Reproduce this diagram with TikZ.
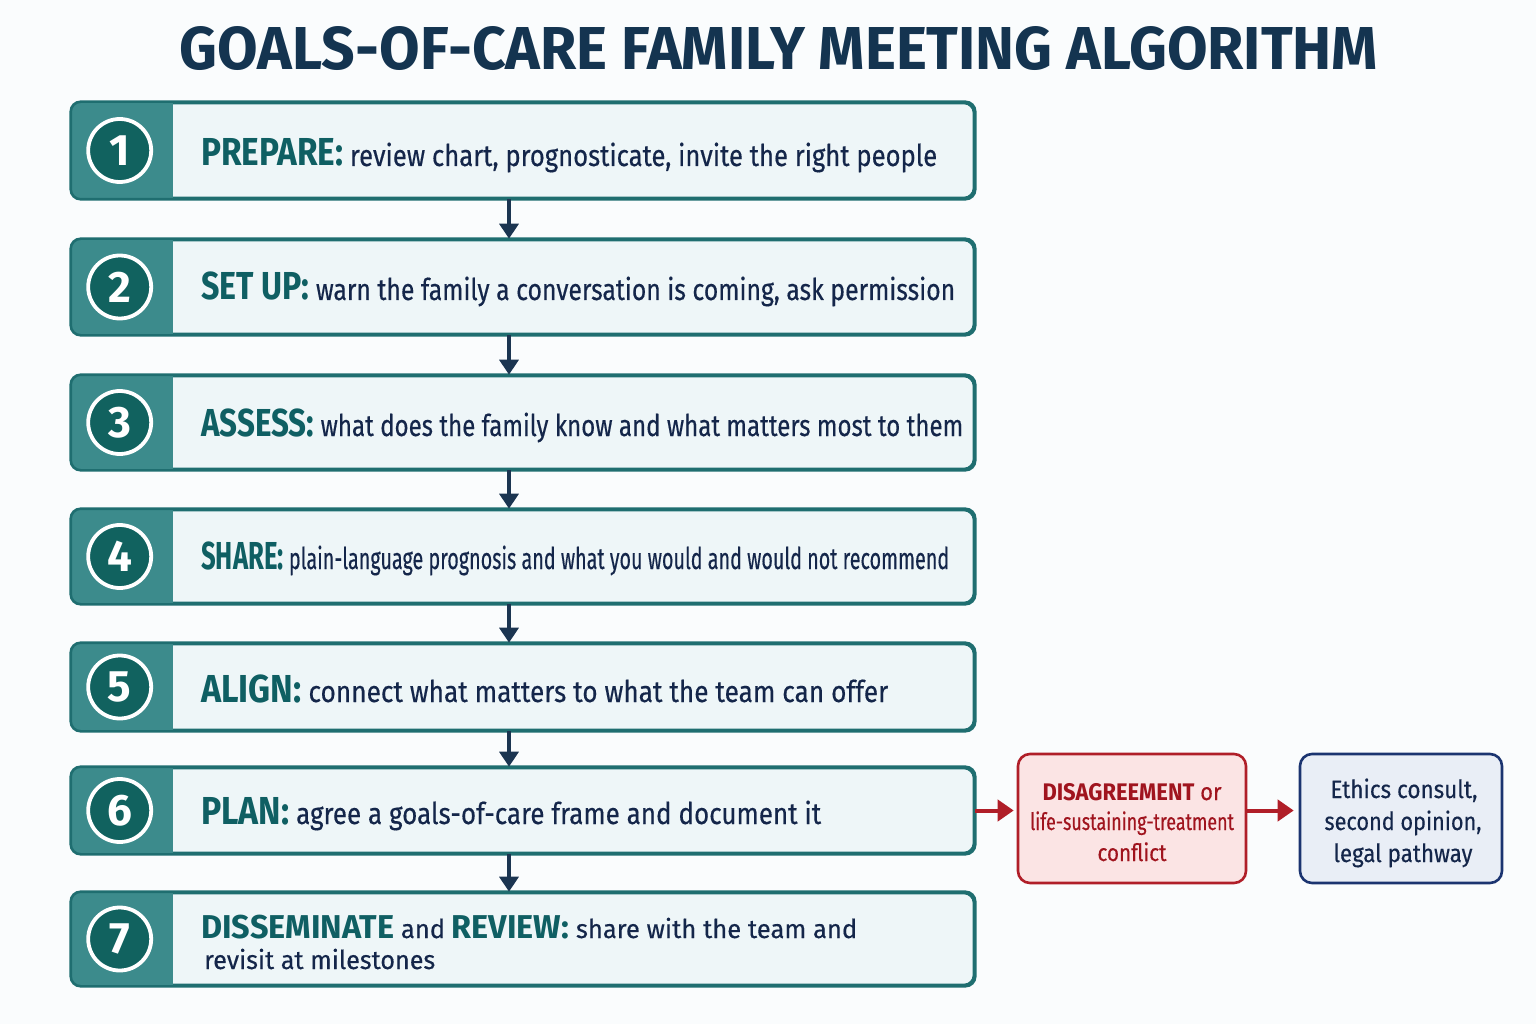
\documentclass[tikz,border=0pt]{standalone}
\usepackage{fontspec}
\setmainfont{Fira Sans}
\newfontfamily\bodyfont{Fira Sans}[FakeBold=0.4]
\usetikzlibrary{arrows.meta}
\definecolor{bgc}{HTML}{FAFCFD}
\definecolor{titlec}{HTML}{143450}
\definecolor{boxfill}{HTML}{EEF6F8}
\definecolor{boxline}{HTML}{1F6E70}
\definecolor{tabc}{HTML}{3C8B8C}
\definecolor{circc}{HTML}{11625F}
\definecolor{labc}{HTML}{0F5F63}
\definecolor{bodyc}{HTML}{14264A}
\definecolor{navyc}{HTML}{1B3551}
\definecolor{redline}{HTML}{B01E28}
\definecolor{redfill}{HTML}{FBE4E4}
\definecolor{redtext}{HTML}{A0141E}
\definecolor{blueline}{HTML}{1B3470}
\definecolor{bluefill}{HTML}{E9EEF6}
\newcommand{\fw}[2]{\resizebox{#1}{\height}{#2}}
\newcommand{\lab}[1]{{\color{labc}\rmfamily\bfseries #1}}
\tikzset{
  stepbox/.style={draw=boxline, line width=2.6pt, fill=boxfill, rounded corners=10pt, minimum width=902pt, inner sep=0pt},
  numcirc/.style={circle, fill=circc, draw=white, line width=3.8pt, minimum size=63pt, inner sep=0pt, text=white, font=\fontsize{44}{44}\selectfont\bfseries},
  steptext/.style={anchor=base west, inner sep=0pt, text=bodyc, font=\fontsize{30}{30}\selectfont\bodyfont},
  navyarrow/.style={draw=navyc, line width=3.4pt, -{Triangle[length=15pt,width=19pt]}},
  redarrow/.style={draw=redline, line width=4pt, -{Triangle[length=16pt,width=21pt]}},
  sidetext/.style={anchor=base, inner sep=0pt}
}
\begin{document}
\begin{tikzpicture}[x=1pt,y=-1pt]
\useasboundingbox[fill=bgc] (0,0) rectangle (1536,1024);

\node[anchor=base, inner sep=0pt, text=titlec] (title) at (779,70)
  {\resizebox{1198pt}{43pt}{\bfseries GOALS-OF-CARE FAMILY MEETING ALGORITHM}};

% step boxes
\node[stepbox, minimum height=95pt] (s1) at (523,150.5) {};
\node[stepbox, minimum height=94pt] (s2) at (523,287) {};
\node[stepbox, minimum height=93pt] (s3) at (523,422.5) {};
\node[stepbox, minimum height=93pt] (s4) at (523,556.5) {};
\node[stepbox, minimum height=86pt] (s5) at (523,687) {};
\node[stepbox, minimum height=85pt] (s6) at (523,810.5) {};
\node[stepbox, minimum height=92pt] (s7) at (523,939) {};

\foreach \s/\n in {s1/1,s2/2,s3/3,s4/4,s5/5,s6/6,s7/7}{
  \begin{scope}
    \clip[rounded corners=10pt] (\s.north west) rectangle (\s.south east);
    \fill[tabc] (\s.north west) rectangle ([xshift=102pt]\s.south west);
  \end{scope}
  \draw[boxline, line width=2.6pt, rounded corners=10pt] (\s.north west) rectangle (\s.south east);
  \node[numcirc] (n\n) at ([xshift=49pt]\s.west) {\n};
}

% step texts
\node[steptext] (t1) at (201,166) {\fw{736pt}{\lab{\fontsize{39}{39}\selectfont PREPARE:} review chart, prognosticate, invite the right people}};
\node[steptext] (t2) at (201,300) {\fw{754pt}{\lab{\fontsize{39}{39}\selectfont SET UP:} warn the family a conversation is coming, ask permission}};
\node[steptext] (t3) at (201,436) {\fw{762pt}{\lab{\fontsize{39}{39}\selectfont ASSESS:} what does the family know and what matters most to them}};
\node[steptext] (t4) at (201,569) {\fw{748pt}{\lab{\fontsize{39}{39}\selectfont SHARE:} plain-language prognosis and what you would and would not recommend}};
\node[steptext] (t5) at (201,702) {\fw{687pt}{\lab{\fontsize{39}{39}\selectfont ALIGN:} connect what matters to what the team can offer}};
\node[steptext] (t6) at (201,824) {\fw{620pt}{\lab{\fontsize{39}{39}\selectfont PLAN:} agree a goals-of-care frame and document it}};
\node[steptext, font=\fontsize{26}{26}\selectfont\bodyfont] (t7a) at (201,938) {\fw{656pt}{\lab{\fontsize{33}{33}\selectfont DISSEMINATE} and \lab{\fontsize{33}{33}\selectfont REVIEW:} share with the team and}};
\node[steptext, font=\fontsize{26}{26}\selectfont\bodyfont] (t7b) at (204,969) {\fw{231pt}{revisit at milestones}};

% vertical arrows
\draw[navyarrow] ([xshift=-14pt]s1.south) -- ([xshift=-14pt]s2.north);
\draw[navyarrow] ([xshift=-14pt]s2.south) -- ([xshift=-14pt]s3.north);
\draw[navyarrow] ([xshift=-14pt]s3.south) -- ([xshift=-14pt]s4.north);
\draw[navyarrow] ([xshift=-14pt]s4.south) -- ([xshift=-14pt]s5.north);
\draw[navyarrow] ([xshift=-14pt]s5.south) -- ([xshift=-14pt]s6.north);
\draw[navyarrow] ([xshift=-14pt]s6.south) -- ([xshift=-14pt]s7.north);

% side boxes
\node[draw=redline, fill=redfill, line width=2.6pt, rounded corners=12pt, minimum width=228pt, minimum height=129pt, inner sep=0pt] (dis) at (1132,818.5) {};
\node[draw=blueline, fill=bluefill, line width=2.6pt, rounded corners=12pt, minimum width=202pt, minimum height=129pt, inner sep=0pt] (eth) at (1401,818.5) {};

\node[sidetext, text=redtext, font=\fontsize{24}{24}\selectfont\bodyfont] (d1) at (1132,800) {\fw{179pt}{{\rmfamily\bfseries DISAGREEMENT} or}};
\node[sidetext, text=redtext, font=\fontsize{24}{24}\selectfont\bodyfont] (d2) at (1132,830) {\fw{204pt}{life-sustaining-treatment}};
\node[sidetext, text=redtext, font=\fontsize{24}{24}\selectfont\bodyfont] (d3) at (1132,861) {\fw{69pt}{conflict}};

\node[sidetext, text=bodyc, font=\fontsize{25}{25}\selectfont\bodyfont] (e1) at (1404,798) {\fw{147pt}{Ethics consult,}};
\node[sidetext, text=bodyc, font=\fontsize{25}{25}\selectfont\bodyfont] (e2) at (1403,830) {\fw{157pt}{second opinion,}};
\node[sidetext, text=bodyc, font=\fontsize{25}{25}\selectfont\bodyfont] (e3) at (1403,862) {\fw{139pt}{legal pathway}};

% red arrows
\draw[redarrow, shorten >=3pt] (s6.east) -- (dis.west |- s6.east);
\draw[redarrow, shorten >=5pt] (dis.east |- s6.east) -- (eth.west |- s6.east);
\end{tikzpicture}
\end{document}
